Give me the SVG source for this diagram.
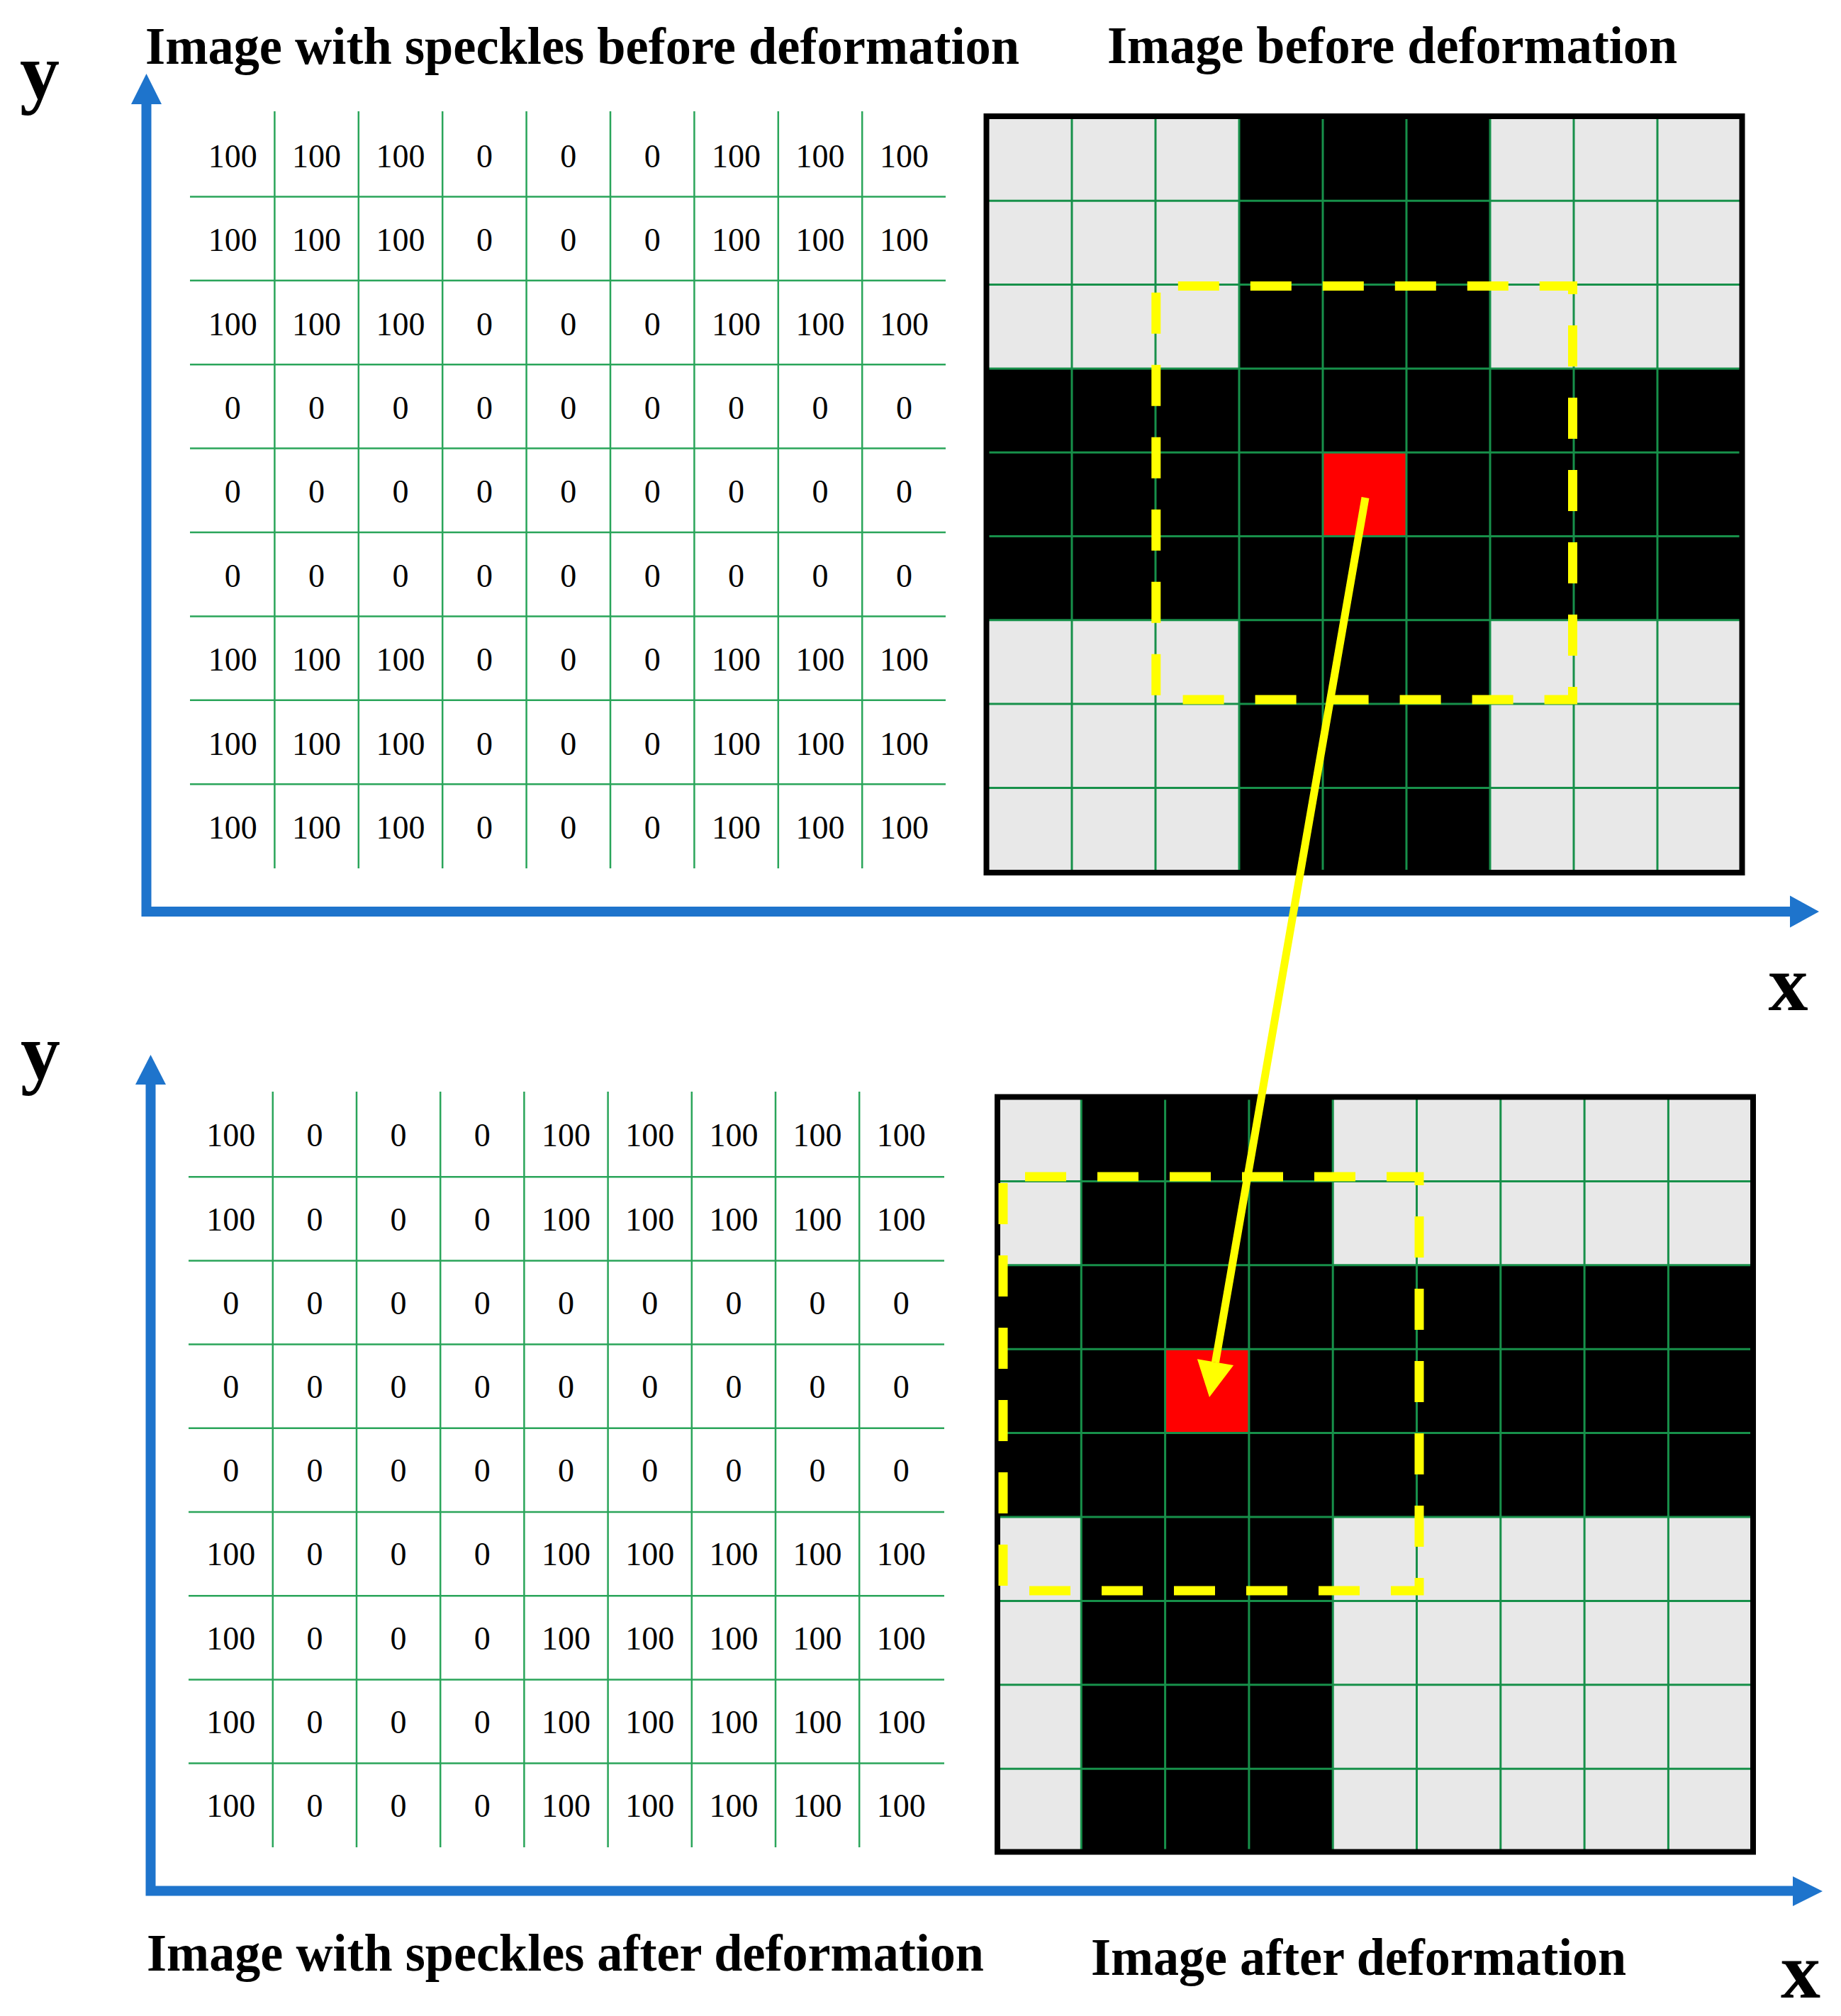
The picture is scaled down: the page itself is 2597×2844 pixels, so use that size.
<svg xmlns="http://www.w3.org/2000/svg" width="2597" height="2844" viewBox="0 0 2597 2844">
<style>
.num{font-family:"Liberation Serif","Times New Roman",serif;font-size:46px;text-anchor:middle;fill:#000}
.title{font-family:"Liberation Serif","Times New Roman",serif;font-weight:bold;font-size:73px;fill:#000}
.axlbl{font-family:"Liberation Serif","Times New Roman",serif;font-weight:bold;font-size:112px;fill:#000}
.tgrid{stroke:#2aa55a;stroke-width:2.5;fill:none}
.igrid{stroke:#17904a;stroke-width:3;fill:none}
.gray{fill:#e8e8e8}
.blk{fill:#000}
.red{fill:#ff0000}
.border{fill:none;stroke:#000;stroke-width:8}
.dash{fill:none;stroke:#ffff00;stroke-width:13;stroke-dasharray:58 44;stroke-dashoffset:71}
.axis{fill:none;stroke:#1e74cc;stroke-width:14;stroke-linejoin:miter}
.axhead{fill:#1e74cc}
</style>
<rect width="2597" height="2844" fill="#ffffff"/>

<g id="titles">
<text class="title" x="205" y="90" textLength="1233" lengthAdjust="spacingAndGlyphs">Image with speckles before deformation</text>
<text class="title" x="1562" y="89" textLength="804" lengthAdjust="spacingAndGlyphs">Image before deformation</text>
<text class="title" x="207" y="2780" textLength="1181" lengthAdjust="spacingAndGlyphs">Image with speckles after deformation</text>
<text class="title" x="1539" y="2786" textLength="755" lengthAdjust="spacingAndGlyphs">Image after deformation</text>
</g>

<g id="axes-top">
<path class="axis" d="M206.5,146 V1286 H2526"/>
<polygon class="axhead" points="206.5,104 185,147 228,147"/>
<polygon class="axhead" points="2566,1286 2525,1263.5 2525,1308.5"/>
<text class="axlbl" x="28" y="139">y</text>
<text class="axlbl" x="2522.5" y="1425" text-anchor="middle">x</text>
</g>

<g id="axes-bottom">
<path class="axis" d="M212.5,1529 V2667.5 H2530"/>
<polygon class="axhead" points="212.5,1488 191,1530 234,1530"/>
<polygon class="axhead" points="2571,2668 2529,2647 2529,2689"/>
<text class="axlbl" x="29" y="1522">y</text>
<text class="axlbl" x="2540" y="2818" text-anchor="middle">x</text>
</g>

<g id="table-before">
<path class="tgrid" d="M387.4,157V1225M505.8,157V1225M624.2,157V1225M742.6,157V1225M861,157V1225M979.4,157V1225M1097.8,157V1225M1216.2,157V1225"/>
<path class="tgrid" d="M268,277.4H1334M268,395.8H1334M268,514.2H1334M268,632.6H1334M268,751H1334M268,869.4H1334M268,987.8H1334M268,1106.2H1334"/>
<text class="num" x="328.2" y="235.7">100</text><text class="num" x="446.6" y="235.7">100</text><text class="num" x="565" y="235.7">100</text><text class="num" x="683.4" y="235.7">0</text><text class="num" x="801.8" y="235.7">0</text><text class="num" x="920.2" y="235.7">0</text><text class="num" x="1038.6" y="235.7">100</text><text class="num" x="1157" y="235.7">100</text><text class="num" x="1275.4" y="235.7">100</text>
<text class="num" x="328.2" y="354.1">100</text><text class="num" x="446.6" y="354.1">100</text><text class="num" x="565" y="354.1">100</text><text class="num" x="683.4" y="354.1">0</text><text class="num" x="801.8" y="354.1">0</text><text class="num" x="920.2" y="354.1">0</text><text class="num" x="1038.6" y="354.1">100</text><text class="num" x="1157" y="354.1">100</text><text class="num" x="1275.4" y="354.1">100</text>
<text class="num" x="328.2" y="472.5">100</text><text class="num" x="446.6" y="472.5">100</text><text class="num" x="565" y="472.5">100</text><text class="num" x="683.4" y="472.5">0</text><text class="num" x="801.8" y="472.5">0</text><text class="num" x="920.2" y="472.5">0</text><text class="num" x="1038.6" y="472.5">100</text><text class="num" x="1157" y="472.5">100</text><text class="num" x="1275.4" y="472.5">100</text>
<text class="num" x="328.2" y="590.9">0</text><text class="num" x="446.6" y="590.9">0</text><text class="num" x="565" y="590.9">0</text><text class="num" x="683.4" y="590.9">0</text><text class="num" x="801.8" y="590.9">0</text><text class="num" x="920.2" y="590.9">0</text><text class="num" x="1038.6" y="590.9">0</text><text class="num" x="1157" y="590.9">0</text><text class="num" x="1275.4" y="590.9">0</text>
<text class="num" x="328.2" y="709.3">0</text><text class="num" x="446.6" y="709.3">0</text><text class="num" x="565" y="709.3">0</text><text class="num" x="683.4" y="709.3">0</text><text class="num" x="801.8" y="709.3">0</text><text class="num" x="920.2" y="709.3">0</text><text class="num" x="1038.6" y="709.3">0</text><text class="num" x="1157" y="709.3">0</text><text class="num" x="1275.4" y="709.3">0</text>
<text class="num" x="328.2" y="827.7">0</text><text class="num" x="446.6" y="827.7">0</text><text class="num" x="565" y="827.7">0</text><text class="num" x="683.4" y="827.7">0</text><text class="num" x="801.8" y="827.7">0</text><text class="num" x="920.2" y="827.7">0</text><text class="num" x="1038.6" y="827.7">0</text><text class="num" x="1157" y="827.7">0</text><text class="num" x="1275.4" y="827.7">0</text>
<text class="num" x="328.2" y="946.1">100</text><text class="num" x="446.6" y="946.1">100</text><text class="num" x="565" y="946.1">100</text><text class="num" x="683.4" y="946.1">0</text><text class="num" x="801.8" y="946.1">0</text><text class="num" x="920.2" y="946.1">0</text><text class="num" x="1038.6" y="946.1">100</text><text class="num" x="1157" y="946.1">100</text><text class="num" x="1275.4" y="946.1">100</text>
<text class="num" x="328.2" y="1064.5">100</text><text class="num" x="446.6" y="1064.5">100</text><text class="num" x="565" y="1064.5">100</text><text class="num" x="683.4" y="1064.5">0</text><text class="num" x="801.8" y="1064.5">0</text><text class="num" x="920.2" y="1064.5">0</text><text class="num" x="1038.6" y="1064.5">100</text><text class="num" x="1157" y="1064.5">100</text><text class="num" x="1275.4" y="1064.5">100</text>
<text class="num" x="328.2" y="1182.9">100</text><text class="num" x="446.6" y="1182.9">100</text><text class="num" x="565" y="1182.9">100</text><text class="num" x="683.4" y="1182.9">0</text><text class="num" x="801.8" y="1182.9">0</text><text class="num" x="920.2" y="1182.9">0</text><text class="num" x="1038.6" y="1182.9">100</text><text class="num" x="1157" y="1182.9">100</text><text class="num" x="1275.4" y="1182.9">100</text>
</g>

<g id="image-before">
<rect class="blk" x="1394" y="165" width="1062" height="1064.7"/>
<rect class="gray" x="1394" y="165" width="354" height="354.9"/>
<rect class="gray" x="2102" y="165" width="354" height="354.9"/>
<rect class="gray" x="1394" y="874.8" width="354" height="354.9"/>
<rect class="gray" x="2102" y="874.8" width="354" height="354.9"/>
<rect class="red" x="1866" y="638.2" width="118" height="118.3"/>
<path class="igrid" d="M1512,165V1229.7M1630,165V1229.7M1748,165V1229.7M1866,165V1229.7M1984,165V1229.7M2102,165V1229.7M2220,165V1229.7M2338,165V1229.7"/>
<path class="igrid" d="M1394,283.3H2456M1394,401.6H2456M1394,519.9H2456M1394,638.2H2456M1394,756.5H2456M1394,874.8H2456M1394,993.1H2456M1394,1111.4H2456"/>
<rect class="border" x="1391.5" y="164" width="1066" height="1067"/>
<path class="dash" d="M1630.8,403.6H2218.5V987H1630.8Z"/>
</g>

<g id="table-after">
<path class="tgrid" d="M384.8,1540V2606M503,1540V2606M621.2,1540V2606M739.4,1540V2606M857.6,1540V2606M975.8,1540V2606M1094,1540V2606M1212.2,1540V2606"/>
<path class="tgrid" d="M266,1660.2H1332M266,1778.4H1332M266,1896.6H1332M266,2014.8H1332M266,2133H1332M266,2251.2H1332M266,2369.4H1332M266,2487.6H1332"/>
<text class="num" x="325.7" y="1617.3">100</text><text class="num" x="443.9" y="1617.3">0</text><text class="num" x="562.1" y="1617.3">0</text><text class="num" x="680.3" y="1617.3">0</text><text class="num" x="798.5" y="1617.3">100</text><text class="num" x="916.7" y="1617.3">100</text><text class="num" x="1034.9" y="1617.3">100</text><text class="num" x="1153.1" y="1617.3">100</text><text class="num" x="1271.3" y="1617.3">100</text>
<text class="num" x="325.7" y="1735.5">100</text><text class="num" x="443.9" y="1735.5">0</text><text class="num" x="562.1" y="1735.5">0</text><text class="num" x="680.3" y="1735.5">0</text><text class="num" x="798.5" y="1735.5">100</text><text class="num" x="916.7" y="1735.5">100</text><text class="num" x="1034.9" y="1735.5">100</text><text class="num" x="1153.1" y="1735.5">100</text><text class="num" x="1271.3" y="1735.5">100</text>
<text class="num" x="325.7" y="1853.7">0</text><text class="num" x="443.9" y="1853.7">0</text><text class="num" x="562.1" y="1853.7">0</text><text class="num" x="680.3" y="1853.7">0</text><text class="num" x="798.5" y="1853.7">0</text><text class="num" x="916.7" y="1853.7">0</text><text class="num" x="1034.9" y="1853.7">0</text><text class="num" x="1153.1" y="1853.7">0</text><text class="num" x="1271.3" y="1853.7">0</text>
<text class="num" x="325.7" y="1971.9">0</text><text class="num" x="443.9" y="1971.9">0</text><text class="num" x="562.1" y="1971.9">0</text><text class="num" x="680.3" y="1971.9">0</text><text class="num" x="798.5" y="1971.9">0</text><text class="num" x="916.7" y="1971.9">0</text><text class="num" x="1034.9" y="1971.9">0</text><text class="num" x="1153.1" y="1971.9">0</text><text class="num" x="1271.3" y="1971.9">0</text>
<text class="num" x="325.7" y="2090.1">0</text><text class="num" x="443.9" y="2090.1">0</text><text class="num" x="562.1" y="2090.1">0</text><text class="num" x="680.3" y="2090.1">0</text><text class="num" x="798.5" y="2090.1">0</text><text class="num" x="916.7" y="2090.1">0</text><text class="num" x="1034.9" y="2090.1">0</text><text class="num" x="1153.1" y="2090.1">0</text><text class="num" x="1271.3" y="2090.1">0</text>
<text class="num" x="325.7" y="2208.3">100</text><text class="num" x="443.9" y="2208.3">0</text><text class="num" x="562.1" y="2208.3">0</text><text class="num" x="680.3" y="2208.3">0</text><text class="num" x="798.5" y="2208.3">100</text><text class="num" x="916.7" y="2208.3">100</text><text class="num" x="1034.9" y="2208.3">100</text><text class="num" x="1153.1" y="2208.3">100</text><text class="num" x="1271.3" y="2208.3">100</text>
<text class="num" x="325.7" y="2326.5">100</text><text class="num" x="443.9" y="2326.5">0</text><text class="num" x="562.1" y="2326.5">0</text><text class="num" x="680.3" y="2326.5">0</text><text class="num" x="798.5" y="2326.5">100</text><text class="num" x="916.7" y="2326.5">100</text><text class="num" x="1034.9" y="2326.5">100</text><text class="num" x="1153.1" y="2326.5">100</text><text class="num" x="1271.3" y="2326.5">100</text>
<text class="num" x="325.7" y="2444.7">100</text><text class="num" x="443.9" y="2444.7">0</text><text class="num" x="562.1" y="2444.7">0</text><text class="num" x="680.3" y="2444.7">0</text><text class="num" x="798.5" y="2444.7">100</text><text class="num" x="916.7" y="2444.7">100</text><text class="num" x="1034.9" y="2444.7">100</text><text class="num" x="1153.1" y="2444.7">100</text><text class="num" x="1271.3" y="2444.7">100</text>
<text class="num" x="325.7" y="2562.9">100</text><text class="num" x="443.9" y="2562.9">0</text><text class="num" x="562.1" y="2562.9">0</text><text class="num" x="680.3" y="2562.9">0</text><text class="num" x="798.5" y="2562.9">100</text><text class="num" x="916.7" y="2562.9">100</text><text class="num" x="1034.9" y="2562.9">100</text><text class="num" x="1153.1" y="2562.9">100</text><text class="num" x="1271.3" y="2562.9">100</text>
</g>

<g id="image-after">
<rect class="blk" x="1407" y="1548" width="1064.7" height="1065.6"/>
<rect class="gray" x="1407" y="1548" width="118.3" height="236.8"/>
<rect class="gray" x="1407" y="2140" width="118.3" height="473.6"/>
<rect class="gray" x="1880.2" y="1548" width="591.5" height="236.8"/>
<rect class="gray" x="1880.2" y="2140" width="591.5" height="473.6"/>
<rect class="red" x="1643.6" y="1903.2" width="118.3" height="118.4"/>
<path class="igrid" d="M1525.3,1548V2613.6M1643.6,1548V2613.6M1761.9,1548V2613.6M1880.2,1548V2613.6M1998.5,1548V2613.6M2116.8,1548V2613.6M2235.1,1548V2613.6M2353.4,1548V2613.6"/>
<path class="igrid" d="M1407,1666.4H2471.7M1407,1784.8H2471.7M1407,1903.2H2471.7M1407,2021.6H2471.7M1407,2140H2471.7M1407,2258.4H2471.7M1407,2376.8H2471.7M1407,2495.2H2471.7"/>
<rect class="border" x="1407" y="1547.5" width="1066" height="1065"/>
<path class="dash" d="M1415,1660H2002V2244H1415Z"/>
</g>

<g id="connectors">
<line x1="1926" y1="702" x2="1714.5" y2="1921.7" stroke="#ffff00" stroke-width="11"/>
<polygon points="1706,1971 1740.1,1926.1 1688.9,1917.3" fill="#ffff00"/>
</g>
</svg>
